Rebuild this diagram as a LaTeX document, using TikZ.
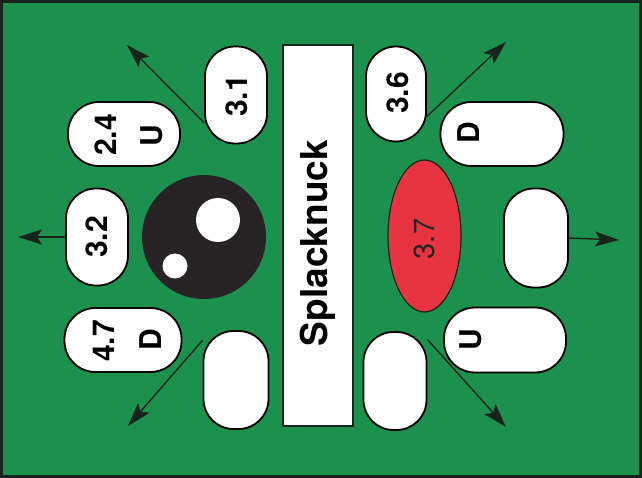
\documentclass[tikz,border=0pt]{standalone}
\usepackage{fontspec}
\setmainfont{TeX Gyre Heros}
\usetikzlibrary{arrows.meta,shapes.geometric}
\definecolor{bggreen}{RGB}{28,145,78}
\definecolor{edgedark}{RGB}{22,36,28}
\definecolor{blob}{RGB}{40,35,37}
\definecolor{redoval}{RGB}{232,52,64}
\begin{document}
\begin{tikzpicture}[x=1pt,y=-1pt,
  vpill/.style={draw=black, line width=1.8pt, fill=white, rounded corners=30pt,
    inner sep=0pt, minimum width=62pt, minimum height=97pt},
  hpill/.style={draw=black, line width=1.8pt, fill=white, rounded corners=31pt,
    inner sep=0pt, minimum width=117pt, minimum height=64pt},
  lbl/.style={rotate=90, inner sep=0pt, font=\fontsize{30}{36}\selectfont\bfseries, text=black},
  arr/.style={draw=edgedark, line width=1.4pt, -{Stealth[length=24pt,width=15pt,inset=5pt]}}
]
\useasboundingbox (0,0) rectangle (642,478);
\fill[bggreen] (0,0) rectangle (642,478);
\draw[edgedark, line width=3pt] (1.5,1.5) rectangle (640.5,476.5);

% central bar
\node[draw=edgedark, line width=1.8pt, fill=white, minimum width=70pt, minimum height=381pt, inner sep=0pt] (bar) at (318,235.5) {};
\node[rotate=90, inner sep=0pt, font=\fontsize{37}{44}\selectfont\bfseries] (barlbl) at (318,243) {Splacknuck};

% left side
\node[vpill] (p31) at (236,95) {};
\node[lbl] (l31) at (236.5,96) {3.1};
\node[hpill, minimum width=112pt] (p24) at (124,134) {};
\node[lbl] (l24) at (106,135) {2.4};
\node[lbl] (l24u) at (152,136) {U};
\node[vpill] (p32) at (97,237) {};
\node[lbl] (l32) at (96.5,237) {3.2};
\node[hpill] (p47) at (123,340) {};
\node[lbl] (l47) at (104,341) {4.7};
\node[lbl] (l47d) at (151,340) {D};
\node[vpill, minimum width=65pt, minimum height=98pt] (b1) at (236,380) {};

% black disc
\node[circle, fill=blob, minimum size=124pt, inner sep=0pt] (disc) at (204,237) {};
\node[circle, fill=white, minimum size=44pt, inner sep=0pt] (dotbig) at (218,220) {};
\node[circle, fill=white, minimum size=25pt, inner sep=0pt] (dotsmall) at (175,266) {};

% right side
\node[vpill, minimum width=60pt, minimum height=95pt] (p36) at (396,94) {};
\node[lbl] (l36) at (397.5,93) {3.6};
\node[hpill, minimum width=123pt] (pd) at (502,134) {};
\node[lbl] (ld) at (469,133) {D};
\node[ellipse, draw=edgedark, line width=1.2pt, fill=redoval, minimum width=73pt, minimum height=152pt, inner sep=0pt] (red) at (424.5,236) {};
\node[rotate=90, inner sep=0pt, font=\fontsize{29}{34}\selectfont, text=black!85] (l37) at (424,239) {3.7};
\node[vpill, minimum width=64pt, minimum height=99pt] (b2) at (536,238) {};
\node[hpill, minimum width=122pt, minimum height=65pt] (pu) at (505,340) {};
\node[lbl] (lu) at (471,340) {U};
\node[vpill, minimum width=63pt, minimum height=98pt] (b3) at (395,381) {};

% arrow tips
\coordinate (t1) at (127,45);
\coordinate (t2) at (18,237);
\coordinate (t3) at (128,426);
\coordinate (t4) at (506,42);
\coordinate (t5) at (619,240);
\coordinate (t6) at (506,427);

\draw[arr] (p31.221) -- (t1);
\draw[arr] (p32.west) -- (t2);
\draw[arr] (b1.130) -- (t3);
\draw[arr] (p36.-36) -- (t4);
\draw[arr] (b2.east) -- (t5);
\draw[arr] (b3.52) -- (t6);
\end{tikzpicture}
\end{document}
